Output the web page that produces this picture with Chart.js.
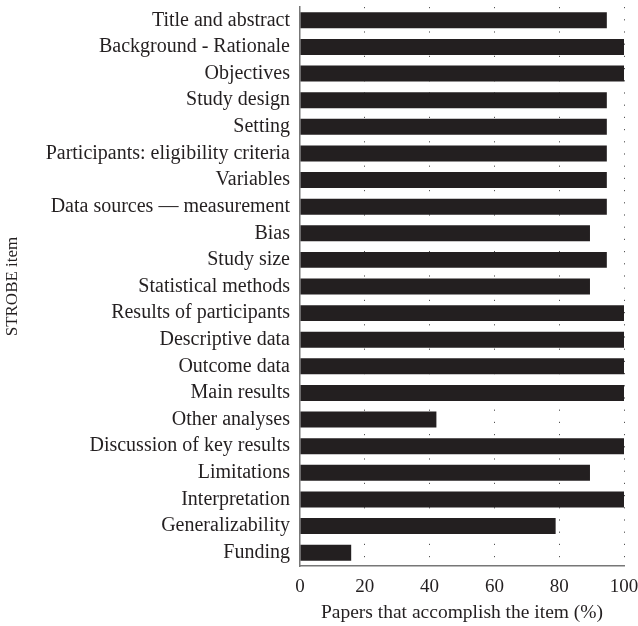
<!DOCTYPE html>
<html>
<head>
<meta charset="utf-8">
<script src="https://cdn.jsdelivr.net/npm/chart.js@4"></script>
<style>
  html, body { margin: 0; padding: 0; background: #fff; }
  #wrap { width: 638px; height: 626px; }
</style>
</head>
<body>
<div id="wrap"><canvas id="myChart"></canvas></div>
<script>
  // STROBE items and share of papers (%) that accomplish each one
  const items = ['Title and abstract', 'Background - Rationale', 'Objectives', 'Study design', 'Setting',
    'Participants: eligibility criteria', 'Variables', 'Data sources \u2014 measurement', 'Bias', 'Study size',
    'Statistical methods', 'Results of participants', 'Descriptive data', 'Outcome data', 'Main results',
    'Other analyses', 'Discussion of key results', 'Limitations', 'Interpretation', 'Generalizability', 'Funding'];
  const percent = [94.7, 100, 100, 94.7, 94.7, 94.7, 94.7, 94.7, 89.5, 94.7,
    89.5, 100, 100, 100, 100, 42.1, 100, 89.5, 100, 78.9, 15.8];
  const xTicks = [0, 20, 40, 60, 80, 100];

  const ink = '#231f20';
  const serif = '"Liberation Serif", "DejaVu Serif", serif';

  var ctx = document.getElementById('myChart').getContext('2d');
  new Chart(ctx, {
    type: 'bar',
    data: {
      labels: items,
      datasets: [{
        data: percent,
        backgroundColor: ink,
        borderWidth: 0,
        barPercentage: 0.6,
        categoryPercentage: 1.0
      }]
    },
    options: {
      indexAxis: 'y',
      responsive: true,
      maintainAspectRatio: false,
      animation: false,
      layout: { padding: { top: 7, right: 0, left: 0, bottom: 0 } },
      plugins: {
        legend: { display: false },
        tooltip: { enabled: false }
      },
      scales: {
        x: {
          min: 0,
          max: 100,
          afterBuildTicks: function (scale) {
            scale.ticks = xTicks.map(v => ({ value: v }));
          },
          grid: {
            display: true,
            drawTicks: false,
            color: function (c) { return c.tick && c.tick.value === 0 ? 'rgba(0,0,0,0)' : '#555'; },
            lineWidth: 1
          },
          border: { display: true, color: '#777', width: 1.5, dash: [1.2, 11] },
          ticks: {
            color: ink,
            padding: 10,
            maxRotation: 0,
            font: { family: serif, size: 19 }
          },
          title: {
            display: true,
            text: 'Papers that accomplish the item (%)',
            color: ink,
            padding: { top: 0, bottom: 1 },
            font: { family: serif, size: 19.5 }
          },
          afterFit: function (scale) {
            scale.height = 60;
            scale.paddingLeft = 0;
            scale.paddingRight = 14;
          }
        },
        y: {
          grid: { display: false, drawTicks: false },
          border: { display: true, color: '#777', width: 1.5 },
          ticks: {
            color: ink,
            padding: 10,
            autoSkip: false,
            font: { family: serif, size: 20 }
          },
          title: {
            display: true,
            text: 'STROBE item',
            color: ink,
            padding: { top: 2, bottom: 0 },
            font: { family: serif, size: 17 }
          },
          afterFit: function (scale) {
            scale.width = 300;
            scale.paddingTop = 0;
            scale.paddingBottom = 0;
          }
        }
      }
    }
  });
</script>
</body>
</html>
